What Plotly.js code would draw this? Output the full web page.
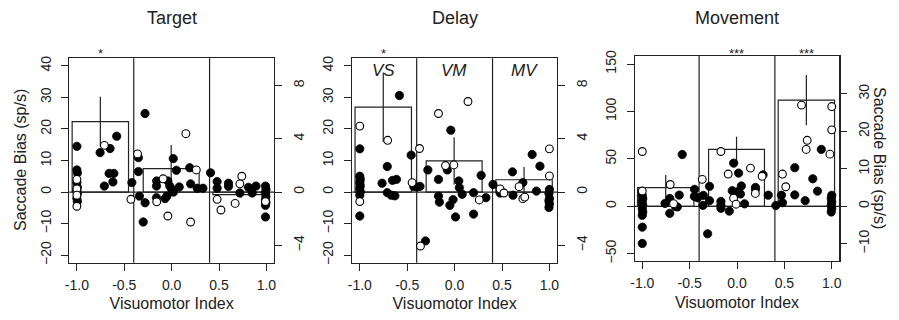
<!DOCTYPE html>
<html>
<head>
<meta charset="utf-8">
<script src="https://cdn.plot.ly/plotly-3.0.1.min.js"></script>
<style>html,body{margin:0;padding:0;background:#fff;}#chart{width:899px;height:320px;}</style>
</head>
<body>
<div id="chart"></div>
<script>
// ---------- data ----------
const panelTitles = ['Target', 'Delay', 'Movement'];
const xTickVals = [-1, -0.5, 0, 0.5, 1];
const xTickText = ['-1.0', '-0.5', '0.0', '0.5', '1.0'];
const classBounds = [-0.4, 0.4];
const classLabels = ['VS', 'VM', 'MV'];
const barLeft = [-1.05, -0.30, 0.435];
const barRight = [-0.455, 0.29, 1.03];

// Target
const targetFilledX = [-1.0,-1.0,-0.995,-1.0,-0.995,-1.0,-0.995,-1.0,-0.995,
  -0.755,-0.65,-0.58,-0.66,-0.61,-0.62,-0.71,-0.42,
  -0.281,-0.351,-0.351,-0.34,-0.28,-0.30,
  -0.158,-0.16,-0.16,-0.04,-0.02,-0.05,-0.07,0.0,0.02,
  0.017,0.05,0.08,0.19,0.2,0.27,0.33,
  0.41,0.48,0.48,0.6,0.6,0.72,0.81,0.85,0.89,
  0.99,0.995,0.99,0.995,0.99,0.995,0.99,0.99];
const targetFilledY = [14.5,7.0,6.0,3.0,1.5,0.5,-0.5,-2.0,-3.0,
  12.5,13.8,17.7,5.9,5.9,3.2,1.9,3.0,
  24.9,10.9,6.5,-1.3,-3.4,-9.5,
  3.5,1.9,-1.8,3.5,1.9,-1.3,-2.1,0.9,0.0,
  10.6,6.9,1.6,7.7,2.6,1.2,1.2,
  6.1,3.3,1.2,2.8,1.8,-0.3,1.5,-0.3,1.9,
  1.9,0.8,-0.3,-1.4,-2.4,-3.4,-4.2,-7.9];
const targetOpenX = [-1.0,-1.0,-1.0,-1.0,-0.71,-0.36,-0.43,-0.158,-0.09,-0.04,0.15,0.26,0.2,0.48,0.52,0.67,0.74,0.72,0.99];
const targetOpenY = [4.0,1.0,-1.0,-4.5,14.8,12.1,-2.3,-3.1,4.2,-7.6,18.5,7.0,-9.5,-2.3,-5.7,-3.6,5.0,2.6,-3.0];
const targetMean = [22.3, 7.4, -0.8];
const targetSE = [7.9, 7.5, 1.0];
const targetSig = ['*', '', ''];

// Delay
const delayFilledX = [-1.0,-1.0,-0.995,-1.0,-0.995,-1.0,-0.995,-1.0,-1.0,
  -0.582,-0.458,-0.71,-0.765,-0.655,-0.613,-0.71,-0.667,-0.63,-0.43,-0.40,-0.365,
  -0.282,-0.17,-0.04,-0.077,-0.17,-0.16,-0.05,-0.016,0.01,-0.307,
  0.044,0.05,0.08,0.2,0.28,0.33,0.2,
  0.405,0.48,0.61,0.616,0.72,0.818,0.9,0.863,
  1.0,0.995,1.0,0.995,1.0,0.995];
const delayFilledY = [13.7,5.0,4.0,3.0,2.0,1.0,0.0,-1.0,-7.6,
  30.6,11.7,8.1,2.8,3.7,4.0,-0.2,-1.0,-1.2,1.7,1.6,1.8,
  7.0,4.0,19.6,7.0,-1.3,-3.2,-4.2,-2.4,-7.9,-15.5,
  3.5,1.4,-0.7,-0.2,5.3,-1.8,-7.0,
  2.4,-0.3,6.4,-1.0,3.0,11.9,8.2,0.3,
  0.8,-0.5,-2.0,-2.8,-3.8,-4.9];
const delayOpenX = [-1.0,-1.0,-0.706,-0.37,-0.448,-0.17,-0.096,-0.008,-0.36,0.141,0.26,0.48,0.52,0.68,0.72,0.74,1.0,1.0];
const delayOpenY = [20.9,-3.0,16.4,13.8,3.0,24.9,8.4,8.6,-17.1,28.7,-2.5,1.0,-0.3,1.7,-2.1,-1.6,13.7,5.1];
const delayMean = [26.9, 9.9, 3.9];
const delaySE = [11.0, 7.5, 4.0];
const delaySig = ['*', '', ''];

// Movement
const moveFilledX = [-1.0,-0.995,-1.0,-0.995,-1.0,-0.995,-1.0,-1.0,-1.0,
  -0.578,-0.76,-0.71,-0.71,-0.61,-0.65,-0.63,-0.448,-0.45,-0.415,-0.355,-0.36,-0.29,-0.29,-0.31,
  -0.035,-0.17,-0.17,-0.17,-0.081,-0.05,
  0.017,0.275,0.046,0.036,0.0,0.08,0.195,0.195,0.33,0.41,
  0.469,0.48,0.61,0.61,0.72,0.8,0.85,0.89,
  1.0,0.995,1.0,0.995,1.0,0.995];
const moveFilledY = [11.6,8.1,4.6,1.0,-2.5,-6.0,-9.5,-22.0,-39.2,
  54.6,3.0,8.2,-7.4,11.8,-0.2,-0.7,17.9,10.4,9.0,11.5,1.0,5.9,21.0,-29.0,
  45.5,5.1,1.0,-2.1,-5.1,16.4,
  35.0,33.2,21.4,13.0,15.2,2.6,19.8,17.9,11.7,0.8,
  11.7,3.8,40.7,12.0,5.9,29.0,16.0,60.0,
  11.6,8.1,4.6,1.0,-2.5,-6.0];
const moveOpenX = [-1.0,-1.0,-0.705,-0.67,-0.367,-0.17,-0.093,-0.036,-0.01,0.142,0.265,0.194,0.48,0.515,0.681,0.741,0.73,0.981,1.0,1.0];
const moveOpenY = [57.8,16.1,23.0,2.8,28.4,57.8,34.0,8.6,2.2,40.3,31.6,13.6,34.0,20.6,106.7,69.6,60.0,55.0,105.2,80.6];
const moveMean = [19.6, 60.0, 112.0];
const moveSE = [13.5, 13.3, 26.5];
const moveSig = ['', '***', '***'];

// axis ticks
const rightTicksTD = [-4, 0, 4, 8];
const rightTicksM = [-10, 0, 10, 20, 30];
const leftTicksTD = [-20, -10, 0, 10, 20, 30, 40];
const leftTicksM = [-50, 0, 50, 100, 150];

// ---------- geometry / style ----------
const W = 899, H = 320;
const font = 'Liberation Sans, Arial, Helvetica, sans-serif';
const ink = '#222';
const panels = [
  {fx: targetFilledX, fy: targetFilledY, ox: targetOpenX, oy: targetOpenY, mean: targetMean, se: targetSE, sig: targetSig,
   xd: [69.3, 274.0], yd: [58.3, 262.7], yr: [-22.4, 42.4], yt: leftTicksTD, yr2: [-5.30, 10.03], yt2: rightTicksTD},
  {fx: delayFilledX, fy: delayFilledY, ox: delayOpenX, oy: delayOpenY, mean: delayMean, se: delaySE, sig: delaySig,
   xd: [352.2, 557.0], yd: [58.3, 262.7], yr: [-22.4, 42.4], yt: leftTicksTD, yr2: [-5.30, 10.03], yt2: rightTicksTD},
  {fx: moveFilledX, fy: moveFilledY, ox: moveOpenX, oy: moveOpenY, mean: moveMean, se: moveSE, sig: moveSig,
   xd: [634.7, 839.3], yd: [56.0, 261.0], yr: [-57.7, 158.5], yt: leftTicksM, yr2: [-14.6, 40.07], yt2: rightTicksM}
];

const traces = [];
const layout = {
  width: W, height: H,
  margin: {l: 0, r: 0, t: 0, b: 0},
  paper_bgcolor: '#fff', plot_bgcolor: 'rgba(0,0,0,0)',
  showlegend: false, barmode: 'overlay',
  font: {family: font, size: 14, color: ink},
  shapes: [], annotations: []
};

const barX = barLeft.map((l, i) => (l + barRight[i]) / 2);
const barW = barLeft.map((l, i) => barRight[i] - l);

panels.forEach((p, k) => {
  const n = k + 1;
  const xa = n === 1 ? 'x' : 'x' + n;
  const ya = 'y' + (n === 1 ? '' : n);
  const ya2 = 'y' + (n + 3);
  const xKey = n === 1 ? 'xaxis' : 'xaxis' + n;
  const yKey = n === 1 ? 'yaxis' : 'yaxis' + n;
  const y2Key = 'yaxis' + (n + 3);

  layout[xKey] = {
    domain: [p.xd[0] / W, p.xd[1] / W], range: [-1.08, 1.08], anchor: ya,
    tickvals: xTickVals, ticktext: xTickText, ticks: 'outside', ticklen: 7, tickwidth: 1, tickcolor: ink,
    ticklabelstandoff: 2,
    showline: true, mirror: true, linecolor: ink, linewidth: 1.2,
    showgrid: false, zeroline: false, fixedrange: true,
    tickfont: {size: 14, color: ink, family: font},
    title: {text: 'Visuomotor Index', font: {size: 16, color: ink, family: font}, standoff: 6}
  };
  layout[yKey] = {
    domain: [1 - p.yd[1] / H, 1 - p.yd[0] / H], range: p.yr, anchor: xa,
    tickvals: p.yt, ticks: 'outside', ticklen: 7, tickwidth: 1, tickcolor: ink, tickangle: -90,
    ticklabelstandoff: 5,
    showline: true, mirror: true, linecolor: ink, linewidth: 1.2,
    showgrid: false, zeroline: false, fixedrange: true,
    tickfont: {size: 14, color: ink, family: font}
  };
  layout[y2Key] = {
    overlaying: ya, anchor: xa, side: 'right', range: p.yr2,
    tickvals: p.yt2, ticks: 'outside', ticklen: 7, tickwidth: 1, tickcolor: ink, tickangle: -90,
    ticklabelstandoff: 5,
    showline: false, showgrid: false, zeroline: false, fixedrange: true,
    tickfont: {size: 14, color: ink, family: font}
  };

  // reference lines
  classBounds.forEach(b => layout.shapes.push({type: 'line', xref: xa, yref: ya + ' domain', x0: b, x1: b, y0: 0, y1: 1,
    line: {color: ink, width: 1.2}, layer: 'below'}));
  layout.shapes.push({type: 'line', xref: xa + ' domain', yref: ya, x0: 0, x1: 1, y0: 0, y1: 0,
    line: {color: ink, width: 1.2}, layer: 'below'});

  // bars with SE
  traces.push({type: 'bar', x: barX, y: p.mean, width: barW, base: 0, xaxis: xa, yaxis: ya,
    marker: {color: 'rgba(0,0,0,0)', line: {color: ink, width: 1.2}},
    error_y: {type: 'data', array: p.se, visible: true, width: 0, thickness: 1.2, color: ink},
    hoverinfo: 'skip'});
  // filled points
  traces.push({type: 'scatter', mode: 'markers', x: p.fx, y: p.fy, xaxis: xa, yaxis: ya,
    marker: {symbol: 'circle', size: 8.3, color: '#000', line: {color: '#000', width: 0.8}}, hoverinfo: 'skip'});
  // open points
  traces.push({type: 'scatter', mode: 'markers', x: p.ox, y: p.oy, xaxis: xa, yaxis: ya,
    marker: {symbol: 'circle', size: 7.8, color: '#fff', line: {color: '#000', width: 1.1}}, hoverinfo: 'skip'});
  // dummy to activate right axis
  traces.push({type: 'scatter', mode: 'markers', x: [null], y: [null], xaxis: xa, yaxis: ya2, hoverinfo: 'skip', showlegend: false});

  // titles
  layout.annotations.push({text: panelTitles[k], xref: xa, yref: 'paper', x: 0, y: 1 - 18 / H,
    showarrow: false, xanchor: 'center', yanchor: 'middle', font: {size: 18, color: ink, family: font}});
  // significance
  p.sig.forEach((s, i) => { if (s) layout.annotations.push({text: s, xref: xa, yref: 'paper', x: barX[i], y: 1 - 53 / H,
    showarrow: false, xanchor: 'center', yanchor: 'middle', font: {size: 13, color: ink, family: font}}); });
});

// class labels on Delay panel
classLabels.forEach((c, i) => layout.annotations.push({text: '<i>' + c + '</i>', xref: 'x2', yref: 'paper',
  x: barX[i], y: 1 - 70 / H, showarrow: false, xanchor: 'center', yanchor: 'middle',
  font: {size: 17, color: ink, family: font}}));

// y-axis titles
layout.annotations.push({text: 'Saccade Bias (sp/s)', xref: 'paper', yref: 'paper', x: 20 / W, y: 1 - 160 / H,
  textangle: -90, showarrow: false, xanchor: 'center', yanchor: 'middle', font: {size: 16, color: ink, family: font}});
layout.annotations.push({text: 'Saccade Bias (sp/s)', xref: 'paper', yref: 'paper', x: 880 / W, y: 1 - 158 / H,
  textangle: 90, showarrow: false, xanchor: 'center', yanchor: 'middle', font: {size: 16, color: ink, family: font}});

Plotly.newPlot('chart', traces, layout, {staticPlot: true, displayModeBar: false});
</script>
</body>
</html>
